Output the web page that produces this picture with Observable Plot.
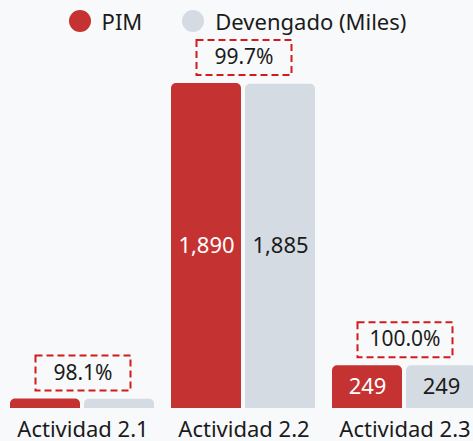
<!DOCTYPE html>
<html>
<head>
<meta charset="utf-8">
<script src="https://cdn.jsdelivr.net/npm/d3@7"></script>
<script src="https://cdn.jsdelivr.net/npm/@observablehq/plot@0.6"></script>
<style>
  html, body { margin: 0; padding: 0; background: #f8f9fa; overflow: hidden; }
  body { width: 473px; height: 441px; font-family: "Noto Sans", sans-serif; color: #1b1b1b; }
  #legend { height: 42px; display: flex; justify-content: center; align-items: center; font-size: 22px; padding-left: 2px; box-sizing: border-box; }
  .item { display: flex; align-items: center; }
  .sw { width: 22px; height: 22px; border-radius: 50%; margin-right: 11px; }
  .item + .item { margin-left: 40px; }
  #chart svg { display: block; }
</style>
</head>
<body>
<div id="legend"></div>
<div id="chart"></div>
<script>
const actividades = ["Actividad 2.1", "Actividad 2.2", "Actividad 2.3"];
const pim = [55, 1890, 249];
const devengado = [54, 1885, 249];
const porcentajes = ["98.1%", "99.7%", "100.0%"];
const series = ["PIM", "Devengado (Miles)"];
const colores = ["#c53232", "#d5dbe3"];

const rows = [];
actividades.forEach((a, i) => {
  rows.push({act: a, serie: series[0], value: pim[i]});
  rows.push({act: a, serie: series[1], value: devengado[i]});
});
const resumen = actividades.map((a, i) => ({act: a, max: Math.max(pim[i], devengado[i]), pct: porcentajes[i]}));

// legend
const legend = document.getElementById("legend");
series.forEach((s, i) => {
  const it = document.createElement("div");
  it.className = "item";
  it.innerHTML = `<span class="sw" style="background:${colores[i]}"></span><span>${s}</span>`;
  legend.appendChild(it);
});

const fmt = d3.format(",");
const boxSymbol = {
  draw(ctx, size) { ctx.moveTo(-47.5, -17.5); ctx.lineTo(47.5, -17.5); ctx.lineTo(47.5, 17.5); ctx.lineTo(-47.5, 17.5); ctx.closePath(); }
};

const chart = Plot.plot({
  width: 473,
  height: 399,
  marginTop: 41,
  marginBottom: 33,
  marginLeft: 10,
  marginRight: 0,
  style: {background: "transparent", fontFamily: "'Noto Sans', sans-serif", fontSize: "22px", color: "#1b1b1b", overflow: "visible"},
  fx: {domain: actividades, range: [9.5, 478], paddingInner: 0.099, paddingOuter: 0, label: null, tickSize: 0, tickPadding: 13, axis: "bottom"},
  x: {domain: series, paddingInner: 0.054, paddingOuter: 0, axis: null},
  y: {domain: [0, 1890], axis: null},
  color: {domain: series, range: colores},
  marks: [
    Plot.barY(rows, {fx: "act", x: "serie", y: "value", fill: "serie", ry1: 5}),
    Plot.text(rows.filter(d => d.value > 100), {
      fx: "act", x: "serie", y: d => d.value / 2, text: d => fmt(d.value),
      fill: d => d.serie === series[0] ? "white" : "#1b1b1b", fontSize: 22
    }),
    Plot.dot(resumen, {fx: "act", y: "max", dy: -26, symbol: boxSymbol, r: 10, fill: "none", stroke: "#d21c1c", strokeWidth: 2, strokeDasharray: "7,4"}),
    Plot.text(resumen, {fx: "act", y: "max", dy: -26, text: "pct", fontSize: 21, fill: "#1b1b1b"})
  ]
});
document.getElementById("chart").appendChild(chart);
</script>
</body>
</html>
